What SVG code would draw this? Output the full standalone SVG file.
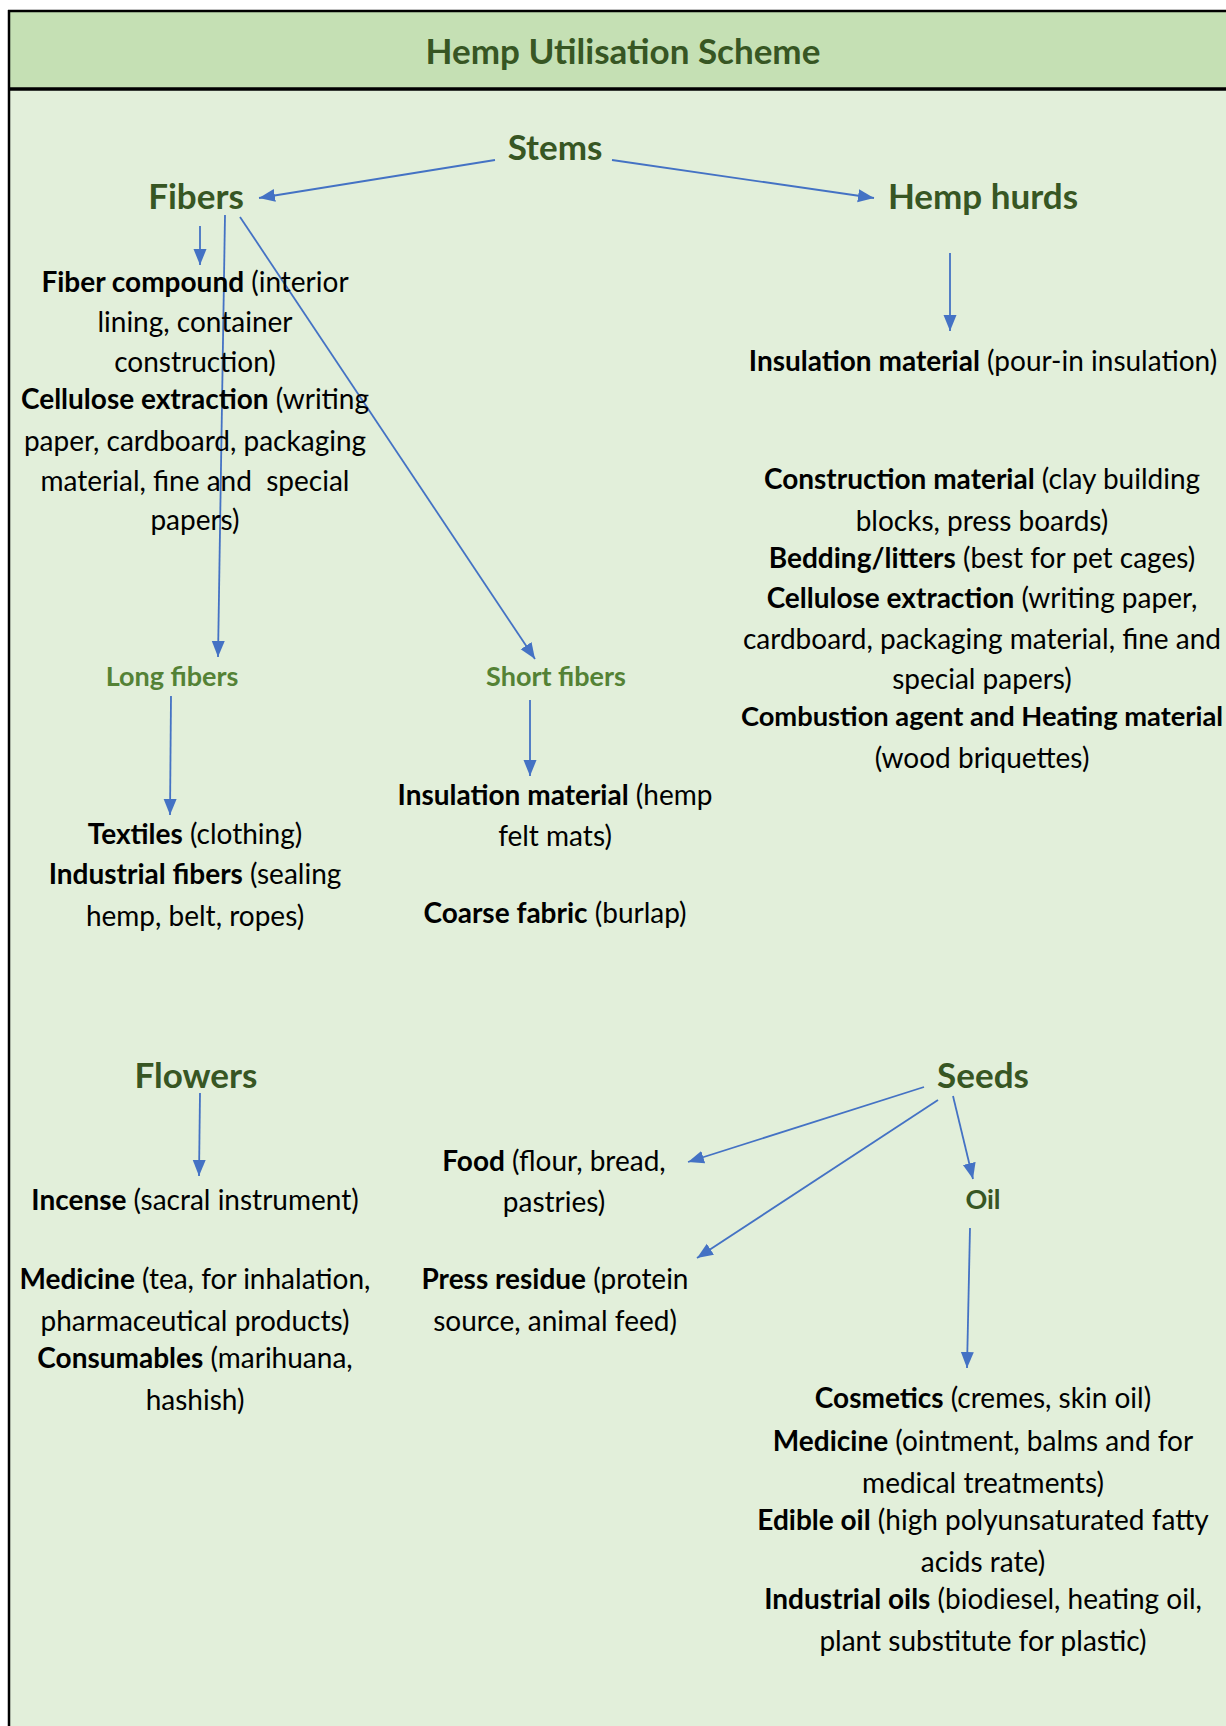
<svg xmlns="http://www.w3.org/2000/svg" width="1226" height="1726" viewBox="0 0 1226 1726">
<style>
.h{font-family:Lato,'Open Sans',sans-serif;font-weight:700;fill:#375623;font-size:35px;text-anchor:middle}
.sh{font-size:27px;fill:#548235}
.t{font-family:Lato,'Open Sans',sans-serif;font-size:28px;fill:#000;text-anchor:middle}
.b{font-weight:700}
.c{stroke:#4472C4;stroke-width:1.8;fill:none;marker-end:url(#ah)}
</style>
<defs>
<marker id="ah" markerUnits="userSpaceOnUse" markerWidth="17" markerHeight="14" refX="16" refY="6.5" orient="auto">
<path d="M0,0 L16,6.5 L0,13 z" fill="#4472C4"/>
</marker>
</defs>
<rect x="0" y="0" width="1226" height="1726" fill="#ffffff"/>
<rect x="9" y="11" width="1217" height="78" fill="#C5E0B4"/>
<rect x="9" y="89" width="1217" height="1637" fill="#E2EFDA"/>
<g id="frame" stroke="#000" fill="none">
<line x1="8" y1="11" x2="1226" y2="11" stroke-width="2.5"/>
<line x1="8" y1="89" x2="1226" y2="89" stroke-width="3.5"/>
<line x1="9" y1="10" x2="9" y2="1726" stroke-width="2.5"/>
</g>
<g id="title"><text class="h" x="623" y="64">Hemp Utilisation Scheme</text></g>

<g id="connectors">
<line class="c" x1="495" y1="160" x2="259" y2="198"/>
<line class="c" x1="612" y1="160" x2="874" y2="198"/>
<line class="c" x1="200" y1="226" x2="200" y2="265"/>
<line class="c" x1="225" y1="215" x2="218" y2="657"/>
<line class="c" x1="240" y1="217" x2="535" y2="659"/>
<line class="c" x1="950" y1="253" x2="950" y2="331"/>
<line class="c" x1="171" y1="696" x2="170" y2="815"/>
<line class="c" x1="530" y1="700" x2="530" y2="776"/>
<line class="c" x1="200" y1="1093" x2="199" y2="1176"/>
<line class="c" x1="924" y1="1087" x2="688" y2="1162"/>
<line class="c" x1="938" y1="1100" x2="697" y2="1258"/>
<line class="c" x1="953" y1="1096" x2="973" y2="1179"/>
<line class="c" x1="970" y1="1228" x2="967" y2="1368"/>
</g>

<g id="stems"><text class="h" x="555" y="160">Stems</text></g>
<g id="fibers"><text class="h" x="196" y="209">Fibers</text></g>
<g id="hemp-hurds"><text class="h" x="983" y="209">Hemp hurds</text></g>

<g id="fiber-uses">
<text class="t" x="195" y="292"><tspan class="b">Fiber compound</tspan> (interior</text>
<text class="t" x="195" y="332">lining, container</text>
<text class="t" x="195" y="372">construction)</text>
<text class="t" x="195" y="409"><tspan class="b">Cellulose extraction</tspan> (writing</text>
<text class="t" x="195" y="451">paper, cardboard, packaging</text>
<text class="t" x="195" y="491" xml:space="preserve">material, fine and  special</text>
<text class="t" x="195" y="530">papers)</text>
</g>

<g id="hurd-insulation">
<text class="t" x="983" y="371"><tspan class="b">Insulation material</tspan> (pour-in insulation)</text>
</g>

<g id="hurd-uses">
<text class="t" x="982" y="489"><tspan class="b">Construction material</tspan> (clay building</text>
<text class="t" x="982" y="531">blocks, press boards)</text>
<text class="t" x="982" y="568"><tspan class="b">Bedding/litters</tspan> (best for pet cages)</text>
<text class="t" x="982" y="608"><tspan class="b">Cellulose extraction</tspan> (writing paper,</text>
<text class="t" x="982" y="649">cardboard, packaging material, fine and</text>
<text class="t" x="982" y="689">special papers)</text>
<text class="t b" x="982" y="726" style="font-size:27.3px">Combustion agent and Heating material</text>
<text class="t" x="982" y="768">(wood briquettes)</text>
</g>

<g id="long-fibers"><text class="h sh" x="172" y="686">Long fibers</text></g>
<g id="short-fibers"><text class="h sh" x="556" y="686">Short fibers</text></g>

<g id="long-fiber-uses">
<text class="t" x="195" y="844"><tspan class="b">Textiles</tspan> (clothing)</text>
<text class="t" x="195" y="884"><tspan class="b">Industrial fibers</tspan> (sealing</text>
<text class="t" x="195" y="926">hemp, belt, ropes)</text>
</g>

<g id="short-fiber-uses">
<text class="t" x="555" y="805"><tspan class="b">Insulation material</tspan> (hemp</text>
<text class="t" x="555" y="846">felt mats)</text>
<text class="t" x="555" y="923"><tspan class="b">Coarse fabric</tspan> (burlap)</text>
</g>

<g id="flowers"><text class="h" x="196" y="1088">Flowers</text></g>
<g id="seeds"><text class="h" x="983" y="1088">Seeds</text></g>

<g id="flower-uses">
<text class="t" x="195" y="1210"><tspan class="b">Incense</tspan> (sacral instrument)</text>
<text class="t" x="195" y="1289"><tspan class="b">Medicine</tspan> (tea, for inhalation,</text>
<text class="t" x="195" y="1331">pharmaceutical products)</text>
<text class="t" x="195" y="1368"><tspan class="b">Consumables</tspan> (marihuana,</text>
<text class="t" x="195" y="1410">hashish)</text>
</g>

<g id="food">
<text class="t" x="554" y="1171"><tspan class="b">Food</tspan> (flour, bread,</text>
<text class="t" x="554" y="1212">pastries)</text>
</g>

<g id="press-residue">
<text class="t" x="555" y="1289"><tspan class="b">Press residue</tspan> (protein</text>
<text class="t" x="555" y="1331">source, animal feed)</text>
</g>

<g id="oil"><text class="h" style="font-size:27px" x="983" y="1209">Oil</text></g>

<g id="oil-uses">
<text class="t" x="983" y="1408"><tspan class="b">Cosmetics</tspan> (cremes, skin oil)</text>
<text class="t" x="983" y="1451"><tspan class="b">Medicine</tspan> (ointment, balms and for</text>
<text class="t" x="983" y="1493">medical treatments)</text>
<text class="t" x="983" y="1530"><tspan class="b">Edible oil</tspan> (high polyunsaturated fatty</text>
<text class="t" x="983" y="1572">acids rate)</text>
<text class="t" x="983" y="1609"><tspan class="b">Industrial oils</tspan> (biodiesel, heating oil,</text>
<text class="t" x="983" y="1651">plant substitute for plastic)</text>
</g>
</svg>
